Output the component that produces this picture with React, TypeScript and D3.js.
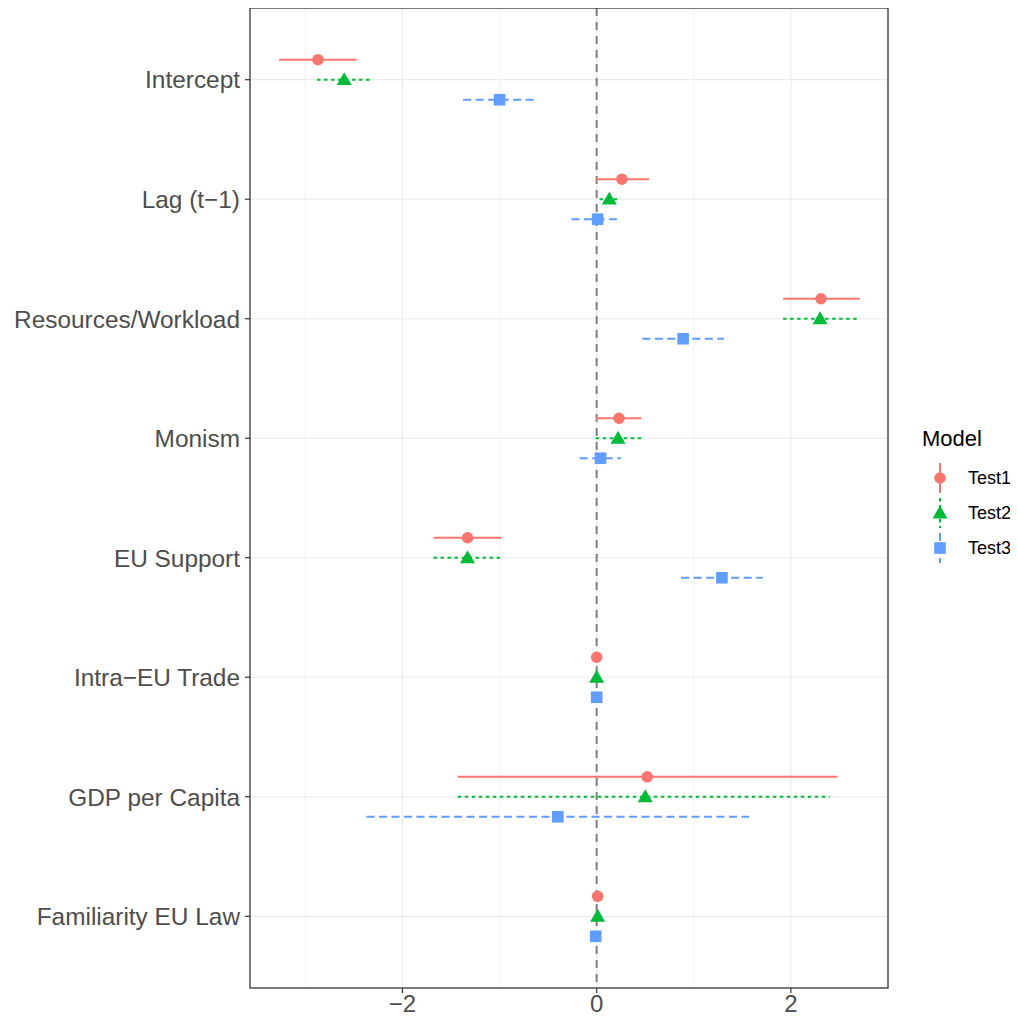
import React, { useEffect, useRef } from "react";
import * as d3 from "d3";

// coefficient names, top to bottom
const terms = [
  "Intercept",
  "Lag (t\u22121)",
  "Resources/Workload",
  "Monism",
  "EU Support",
  "Intra\u2212EU Trade",
  "GDP per Capita",
  "Familiarity EU Law",
];

const models = ["Test1", "Test2", "Test3"];

// estimates per model, same order as terms
const est1 = [-2.87, 0.26, 2.31, 0.23, -1.33, 0.0, 0.52, 0.01];
const est2 = [-2.6, 0.13, 2.3, 0.22, -1.33, 0.0, 0.5, 0.01];
const est3 = [-1.0, 0.01, 0.89, 0.04, 1.29, 0.0, -0.4, -0.01];

const lo1 = [-3.27, -0.01, 1.92, -0.01, -1.68, -0.01, -1.43, -0.01];
const hi1 = [-2.47, 0.54, 2.71, 0.46, -0.98, 0.01, 2.48, 0.02];
const lo2 = [-2.88, 0.03, 1.92, -0.01, -1.68, -0.01, -1.43, -0.01];
const hi2 = [-2.33, 0.23, 2.69, 0.46, -0.98, 0.01, 2.4, 0.02];
const lo3 = [-1.375, -0.26, 0.47, -0.175, 0.87, -0.01, -2.37, -0.02];
const hi3 = [-0.617, 0.23, 1.31, 0.25, 1.71, 0.01, 1.57, 0.0];

const xTicks = [-2, 0, 2];
const xMinor = [-3, -1, 1, 3];

const colors = ["#F8766D", "#00BA38", "#619CFF"];
const dashes = [null, "3.5,3.5", "8,4.5"];
const FONT = "Liberation Sans, Arial, sans-serif";

export default function App() {
  const ref = useRef<SVGSVGElement>(null);

  useEffect(() => {
    const svg = d3.select(ref.current);
    svg.selectAll("*").remove();

    const W = 1018, H = 1021;
    const margin = { top: 8, right: 130, bottom: 33, left: 250 };
    const iw = W - margin.left - margin.right;
    const ih = H - margin.top - margin.bottom;

    const x = d3.scaleLinear().domain([-3.57, 3.0]).range([0, iw]);
    const y = d3.scalePoint<string>().domain(terms).range([0, ih]).padding(0.6);
    const off = [-20, 0, 20];

    const g = svg.append("g").attr("transform", `translate(${margin.left},${margin.top})`);

    // grid
    g.selectAll(".minor").data(xMinor).enter().append("line")
      .attr("x1", d => x(d)).attr("x2", d => x(d))
      .attr("y1", 0).attr("y2", ih)
      .attr("stroke", "#ebebeb").attr("stroke-width", 0.6);
    g.selectAll(".major").data(xTicks).enter().append("line")
      .attr("x1", d => x(d)).attr("x2", d => x(d))
      .attr("y1", 0).attr("y2", ih)
      .attr("stroke", "#ebebeb").attr("stroke-width", 1.2);
    g.selectAll(".hgrid").data(terms).enter().append("line")
      .attr("x1", 0).attr("x2", iw)
      .attr("y1", d => y(d)!).attr("y2", d => y(d)!)
      .attr("stroke", "#ebebeb").attr("stroke-width", 1.2);

    // zero reference line
    g.append("line")
      .attr("x1", x(0)).attr("x2", x(0))
      .attr("y1", 0).attr("y2", ih)
      .attr("stroke", "#7f7f7f").attr("stroke-width", 2)
      .attr("stroke-dasharray", "8,6");

    const ests = [est1, est2, est3];
    const los = [lo1, lo2, lo3];
    const his = [hi1, hi2, hi3];

    models.forEach((m, k) => {
      terms.forEach((t, i) => {
        const cy = y(t)! + off[k];
        const line = g.append("line")
          .attr("x1", x(los[k][i])).attr("x2", x(his[k][i]))
          .attr("y1", cy).attr("y2", cy)
          .attr("stroke", colors[k]).attr("stroke-width", 2);
        if (dashes[k]) line.attr("stroke-dasharray", dashes[k]!);
        drawShape(g, k, x(ests[k][i]), cy);
      });
    });

    // panel border
    g.append("rect").attr("width", iw).attr("height", ih)
      .attr("fill", "none").attr("stroke", "#333333").attr("stroke-width", 1.3);

    // x axis
    const xa = g.append("g").attr("transform", `translate(0,${ih})`);
    xTicks.forEach(v => {
      xa.append("line").attr("x1", x(v)).attr("x2", x(v)).attr("y1", 0).attr("y2", 5)
        .attr("stroke", "#333333").attr("stroke-width", 1.2);
      xa.append("text").attr("x", x(v)).attr("y", 24)
        .attr("text-anchor", "middle").attr("fill", "#4d4d4d")
        .style("font-family", FONT).style("font-size", "24px")
        .text(v < 0 ? "\u2212" + Math.abs(v) : String(v));
    });

    // y axis
    terms.forEach(t => {
      g.append("line").attr("x1", -5).attr("x2", 0).attr("y1", y(t)!).attr("y2", y(t)!)
        .attr("stroke", "#333333").attr("stroke-width", 1.2);
      g.append("text").attr("x", -10).attr("y", y(t)!).attr("dy", "0.36em")
        .attr("text-anchor", "end").attr("fill", "#4d4d4d")
        .style("font-family", FONT).style("font-size", "24.4px")
        .text(t);
    });

    // legend
    const lg = svg.append("g").attr("transform", "translate(922,0)");
    lg.append("text").attr("x", 0).attr("y", 446).attr("fill", "#000")
      .style("font-family", FONT).style("font-size", "22px")
      .text("Model");
    models.forEach((m, k) => {
      const cy = 478 + k * 35;
      const l = lg.append("line").attr("x1", 18).attr("x2", 18)
        .attr("y1", cy - 15).attr("y2", cy + 15)
        .attr("stroke", colors[k]).attr("stroke-width", 2);
      if (dashes[k]) l.attr("stroke-dasharray", dashes[k]!);
      drawShape(lg, k, 18, cy);
      lg.append("text").attr("x", 46).attr("y", cy).attr("dy", "0.36em").attr("fill", "#000")
        .style("font-family", FONT).style("font-size", "18px")
        .text(m);
    });
  }, []);

  function drawShape(sel: any, k: number, cx: number, cy: number) {
    if (k === 0) {
      sel.append("circle").attr("cx", cx).attr("cy", cy).attr("r", 5.8).attr("fill", colors[0]);
    } else if (k === 1) {
      const s = 7.5;
      sel.append("path")
        .attr("d", `M${cx},${cy - s} L${cx + s},${cy + s * 0.72} L${cx - s},${cy + s * 0.72} Z`)
        .attr("fill", colors[1]);
    } else {
      sel.append("rect").attr("x", cx - 5.8).attr("y", cy - 5.8)
        .attr("width", 11.6).attr("height", 11.6).attr("fill", colors[2]);
    }
  }

  return <svg ref={ref} width={1018} height={1021} style={{ display: "block", margin: -8 }} />;
}
